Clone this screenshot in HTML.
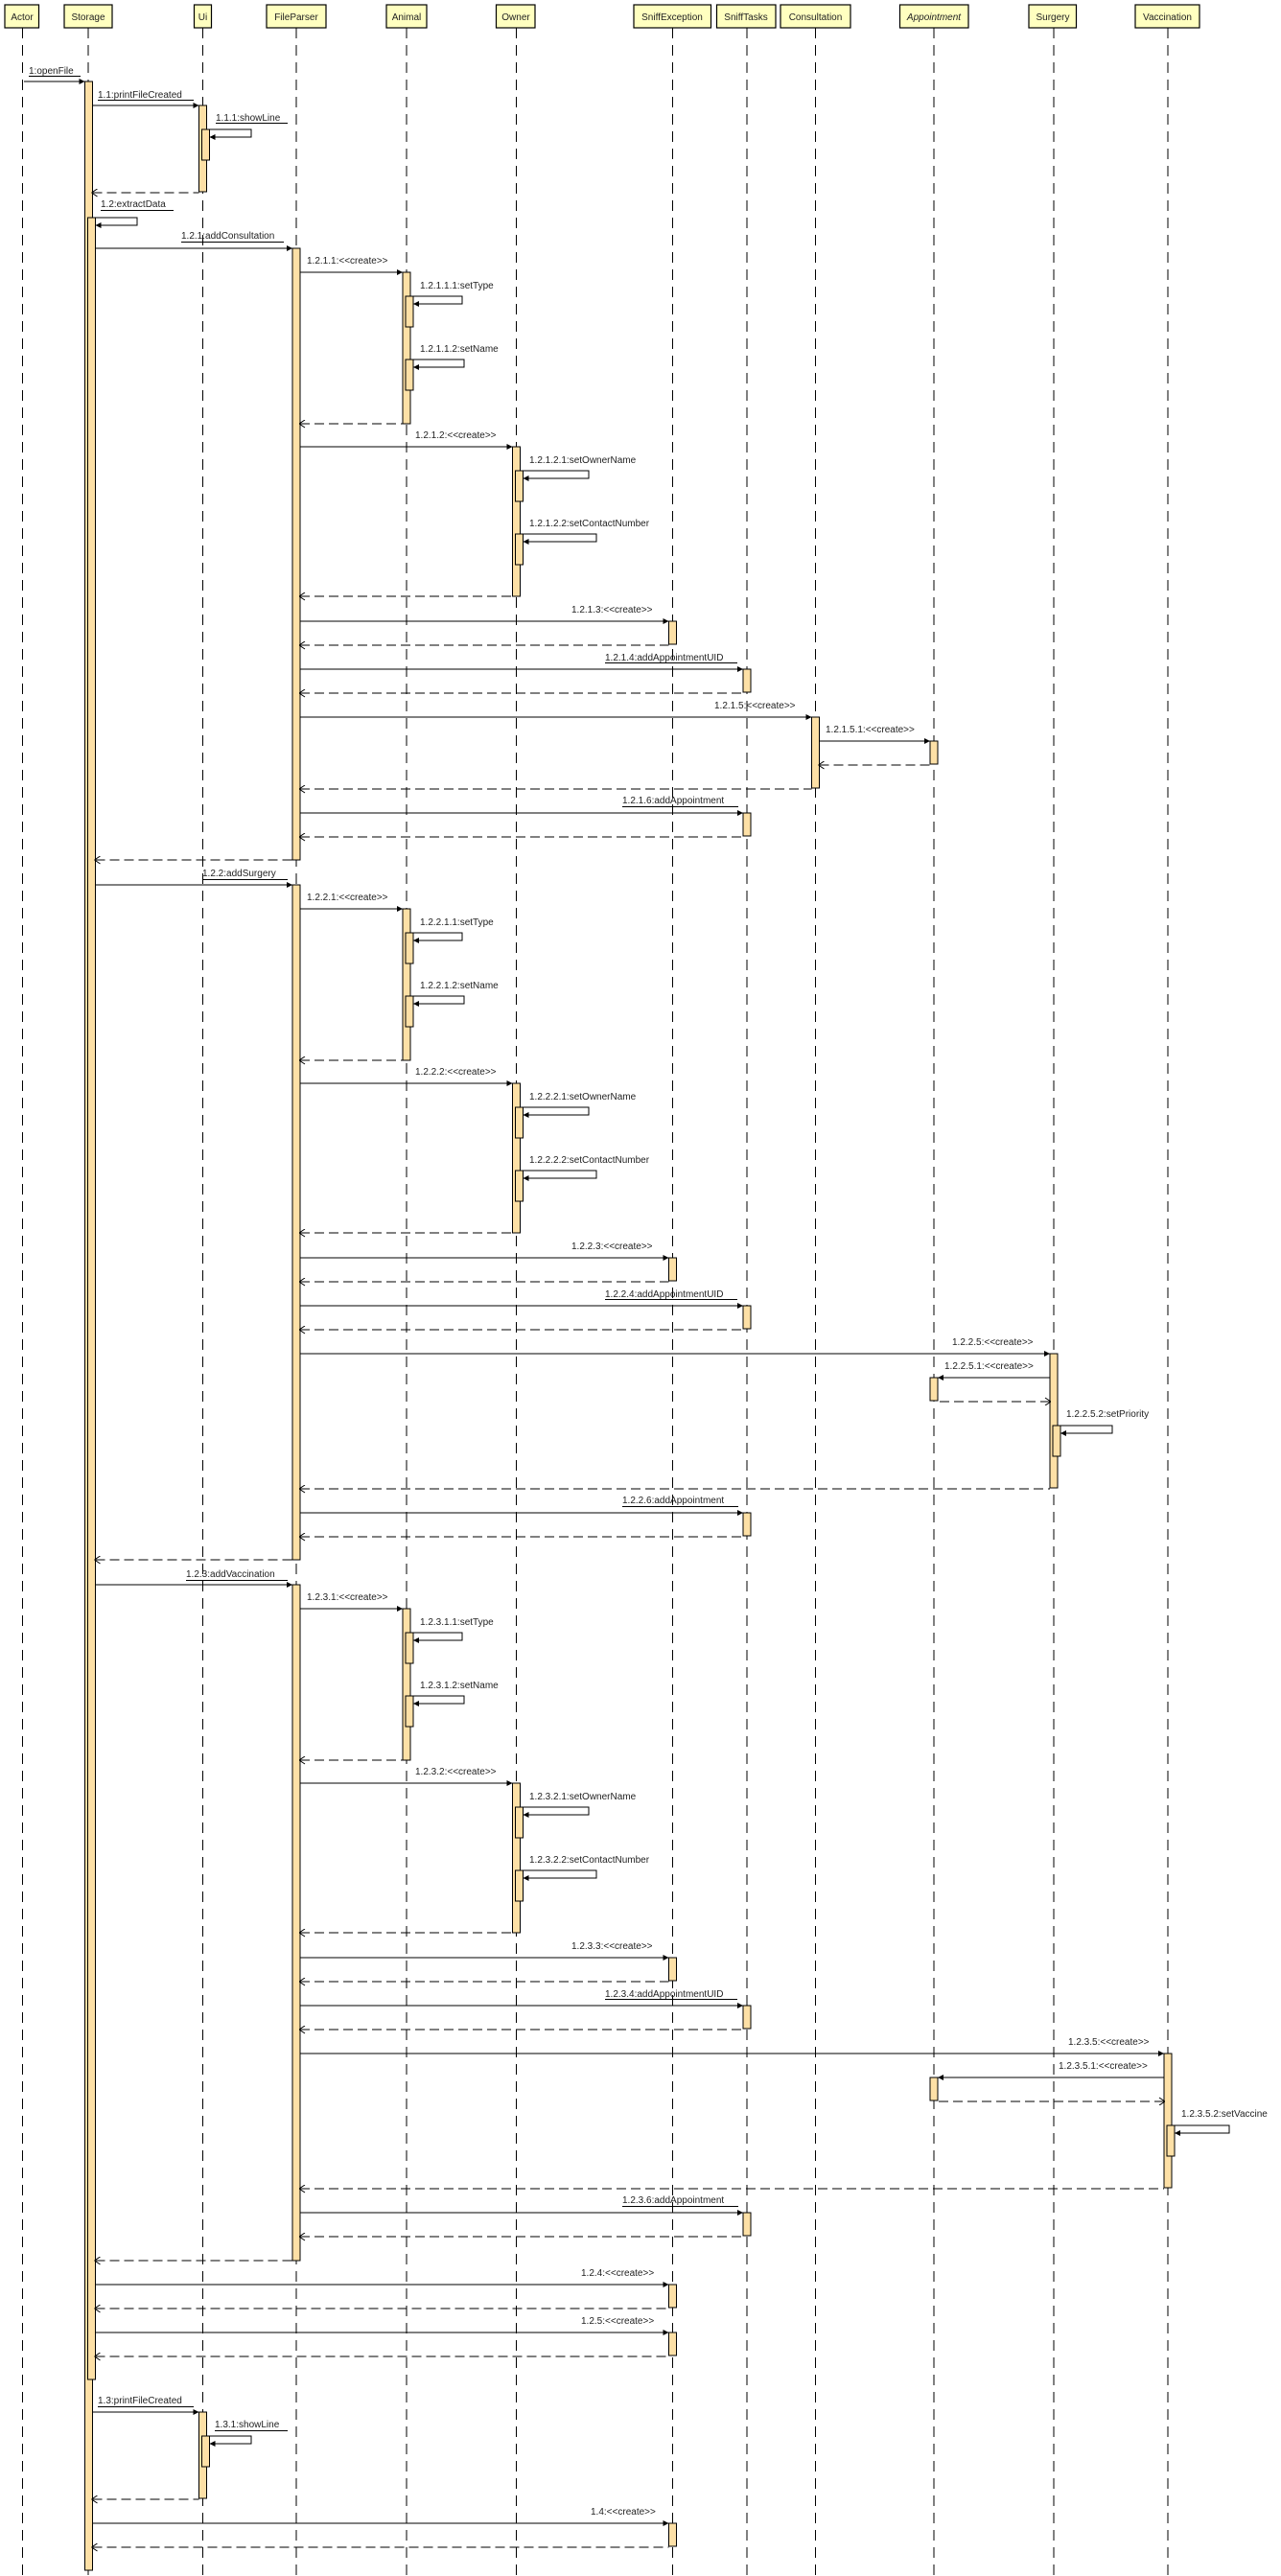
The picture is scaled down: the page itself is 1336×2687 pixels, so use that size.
<!DOCTYPE html>
<html><head><meta charset="utf-8"><style>
html,body{margin:0;padding:0;background:#fff;}
svg{display:block;}
text{font-family:"Liberation Sans",Arial,sans-serif;font-size:10px;fill:#222;}
.hd{fill:#ffffc0;stroke:#000;stroke-width:1.2;}
.ll{stroke:#000;stroke-width:1;stroke-dasharray:11 7;}
.a{fill:#fde0a6;stroke:#000;stroke-width:1;}
.m{stroke:#000;stroke-width:1;fill:none;marker-end:url(#s);}
.r{stroke:#000;stroke-width:1;fill:none;stroke-dasharray:10 5;marker-start:url(#o);}
.u{stroke:#000;stroke-width:1;}
.c{text-anchor:middle;}
</style></head><body>
<svg width="1336" height="2687" viewBox="0 0 1336 2687" xmlns="http://www.w3.org/2000/svg">
<defs>
<marker id="s" markerUnits="userSpaceOnUse" markerWidth="7" markerHeight="7" refX="6" refY="3" orient="auto"><polygon points="0,0 6,3 0,6" fill="#000"/></marker>
<marker id="o" markerUnits="userSpaceOnUse" markerWidth="8" markerHeight="10" refX="1" refY="4" orient="auto"><polyline points="6,0 0,4 6,8" fill="none" stroke="#000" stroke-width="1"/></marker>
</defs>

<!-- lifelines -->
<g>
<line class="ll" x1="23.5" y1="29" x2="23.5" y2="2687"/>
<line class="ll" x1="92" y1="29" x2="92" y2="2687"/>
<line class="ll" x1="211.5" y1="29" x2="211.5" y2="2687"/>
<line class="ll" x1="309" y1="29" x2="309" y2="2687"/>
<line class="ll" x1="424" y1="29" x2="424" y2="2687"/>
<line class="ll" x1="538.5" y1="29" x2="538.5" y2="2687"/>
<line class="ll" x1="701.5" y1="29" x2="701.5" y2="2687"/>
<line class="ll" x1="779" y1="29" x2="779" y2="2687"/>
<line class="ll" x1="850.5" y1="29" x2="850.5" y2="2687"/>
<line class="ll" x1="974" y1="29" x2="974" y2="2687"/>
<line class="ll" x1="1099" y1="29" x2="1099" y2="2687"/>
<line class="ll" x1="1218" y1="29" x2="1218" y2="2687"/>
</g>
<!-- headers -->
<rect class="hd" x="5" y="5" width="35.5" height="24"/><text class="c" x="23" y="21">Actor</text>
<rect class="hd" x="67" y="5" width="50" height="24"/><text class="c" x="92" y="21">Storage</text>
<rect class="hd" x="202.5" y="5" width="18" height="24"/><text class="c" x="211.5" y="21">Ui</text>
<rect class="hd" x="278" y="5" width="62" height="24"/><text class="c" x="309" y="21">FileParser</text>
<rect class="hd" x="403" y="5" width="42" height="24"/><text class="c" x="424" y="21">Animal</text>
<rect class="hd" x="517.5" y="5" width="40.5" height="24"/><text class="c" x="538" y="21">Owner</text>
<rect class="hd" x="661" y="5" width="80.5" height="24"/><text class="c" x="701" y="21">SniffException</text>
<rect class="hd" x="747.5" y="5" width="61.5" height="24"/><text class="c" x="778" y="21">SniffTasks</text>
<rect class="hd" x="814" y="5" width="73" height="24"/><text class="c" x="850.5" y="21">Consultation</text>
<rect class="hd" x="938.5" y="5" width="71.5" height="24"/><text class="c" x="974" y="21" font-style="italic">Appointment</text>
<rect class="hd" x="1073" y="5" width="49.5" height="24"/><text class="c" x="1098" y="21">Surgery</text>
<rect class="hd" x="1184" y="5" width="67" height="24"/><text class="c" x="1217.5" y="21">Vaccination</text>

<!-- Storage activations -->
<rect class="a" x="88.5" y="85" width="8" height="2596"/>
<rect class="a" x="91.5" y="227" width="8" height="2255"/>

<!-- top -->
<text x="30" y="77">1:openFile</text><line class="u" x1="30" y1="79.5" x2="84" y2="79.5"/>
<line class="m" x1="25" y1="85" x2="88.5" y2="85"/>
<text x="102" y="102">1.1:printFileCreated</text><line class="u" x1="102" y1="104.5" x2="202" y2="104.5"/>
<line class="m" x1="96.5" y1="110" x2="207.5" y2="110"/>
<rect class="a" x="207.5" y="110" width="8" height="90"/>
<rect class="a" x="210.5" y="135" width="8" height="32"/>
<text x="225" y="126">1.1.1:showLine</text><line class="u" x1="225" y1="128.5" x2="300" y2="128.5"/>
<path class="m" d="M215.5 135 H262 V143 H218.5"/>
<line class="r" x1="96.5" y1="201" x2="207.5" y2="201"/>
<text x="105" y="216">1.2:extractData</text><line class="u" x1="105" y1="219.5" x2="181" y2="219.5"/>
<path class="m" d="M96.5 227 H143 V235 H99.5"/>

<!-- FileParser activations -->
<rect class="a" x="305" y="259" width="8" height="638"/>
<rect class="a" x="305" y="923" width="8" height="704"/>
<rect class="a" x="305" y="1653" width="8" height="705"/>

<!-- ===== Block 1 ===== -->
<text x="189" y="249">1.2.1:addConsultation</text><line class="u" x1="189" y1="252.5" x2="296" y2="252.5"/>
<line class="m" x1="99.5" y1="259" x2="305" y2="259"/>
<line class="r" x1="99.5" y1="897" x2="305" y2="897"/>

<text x="320" y="275">1.2.1.1:&lt;&lt;create&gt;&gt;</text>
<text x="438" y="301">1.2.1.1.1:setType</text>
<text x="438" y="367">1.2.1.1.2:setName</text>
<text x="433" y="457">1.2.1.2:&lt;&lt;create&gt;&gt;</text>
<text x="552" y="483">1.2.1.2.1:setOwnerName</text>
<text x="552" y="549">1.2.1.2.2:setContactNumber</text>
<text x="596" y="639">1.2.1.3:&lt;&lt;create&gt;&gt;</text>
<text x="631" y="689">1.2.1.4:addAppointmentUID</text>
<g id="blk">
<line class="m" x1="313" y1="284" x2="420" y2="284"/>
<rect class="a" x="420" y="284" width="8" height="158"/>
<rect class="a" x="423" y="309" width="8" height="32"/>
<path class="m" d="M428 309 H482 V317 H431"/>
<rect class="a" x="423" y="375" width="8" height="32"/>
<path class="m" d="M428 375 H484 V383 H431"/>
<line class="r" x1="313" y1="442" x2="420" y2="442"/>
<line class="m" x1="313" y1="466" x2="534.5" y2="466"/>
<rect class="a" x="534.5" y="466" width="8" height="156"/>
<rect class="a" x="537.5" y="491" width="8" height="32"/>
<path class="m" d="M542.5 491 H614 V499 H545.5"/>
<rect class="a" x="537.5" y="557" width="8" height="32"/>
<path class="m" d="M542.5 557 H622 V565 H545.5"/>
<line class="r" x1="313" y1="622" x2="534.5" y2="622"/>
<line class="m" x1="313" y1="648" x2="697.5" y2="648"/>
<rect class="a" x="697.5" y="648" width="8" height="24"/>
<line class="r" x1="313" y1="673" x2="697.5" y2="673"/>
<line class="u" x1="631" y1="691.5" x2="769" y2="691.5"/>
<line class="m" x1="313" y1="698" x2="775" y2="698"/>
<rect class="a" x="775" y="698" width="8" height="24"/>
<line class="r" x1="313" y1="723" x2="775" y2="723"/>
</g>
<text x="745" y="739">1.2.1.5:&lt;&lt;create&gt;&gt;</text>
<line class="m" x1="313" y1="748" x2="846.5" y2="748"/>
<rect class="a" x="846.5" y="748" width="8" height="74"/>
<text x="861" y="764">1.2.1.5.1:&lt;&lt;create&gt;&gt;</text>
<line class="m" x1="854.5" y1="773" x2="970" y2="773"/>
<rect class="a" x="970" y="773" width="8" height="24"/>
<line class="r" x1="854.5" y1="798" x2="970" y2="798"/>
<line class="r" x1="313" y1="823" x2="846.5" y2="823"/>
<text x="649" y="838">1.2.1.6:addAppointment</text>
<g id="aa">
<line class="u" x1="649" y1="841.5" x2="770" y2="841.5"/>
<line class="m" x1="313" y1="848" x2="775" y2="848"/>
<rect class="a" x="775" y="848" width="8" height="24"/>
<line class="r" x1="313" y1="873" x2="775" y2="873"/>
</g>

<!-- ===== Block 2 ===== -->
<text x="211" y="914">1.2.2:addSurgery</text><line class="u" x1="211" y1="917.5" x2="300" y2="917.5"/>
<line class="m" x1="99.5" y1="923" x2="305" y2="923"/>
<line class="r" x1="99.5" y1="1627" x2="305" y2="1627"/>
<use href="#blk" transform="translate(0,664)"/>
<text x="320" y="939">1.2.2.1:&lt;&lt;create&gt;&gt;</text>
<text x="438" y="965">1.2.2.1.1:setType</text>
<text x="438" y="1031">1.2.2.1.2:setName</text>
<text x="433" y="1121">1.2.2.2:&lt;&lt;create&gt;&gt;</text>
<text x="552" y="1147">1.2.2.2.1:setOwnerName</text>
<text x="552" y="1213">1.2.2.2.2:setContactNumber</text>
<text x="596" y="1303">1.2.2.3:&lt;&lt;create&gt;&gt;</text>
<text x="631" y="1353">1.2.2.4:addAppointmentUID</text>
<text x="993" y="1403">1.2.2.5:&lt;&lt;create&gt;&gt;</text>
<line class="m" x1="313" y1="1412" x2="1095" y2="1412"/>
<rect class="a" x="1095" y="1412" width="8" height="140"/>
<text x="985" y="1428">1.2.2.5.1:&lt;&lt;create&gt;&gt;</text>
<line class="m" x1="1095" y1="1437" x2="978" y2="1437"/>
<rect class="a" x="970" y="1437" width="8" height="24"/>
<line class="r" x1="1095" y1="1462" x2="978" y2="1462"/>
<text x="1112" y="1478">1.2.2.5.2:setPriority</text>
<rect class="a" x="1098" y="1487" width="8" height="32"/>
<path class="m" d="M1103 1487 H1160 V1495 H1106"/>
<line class="r" x1="313" y1="1553" x2="1095" y2="1553"/>
<use href="#aa" transform="translate(0,730)"/>
<text x="649" y="1568">1.2.2.6:addAppointment</text>

<!-- ===== Block 3 ===== -->
<text x="194" y="1645">1.2.3:addVaccination</text><line class="u" x1="194" y1="1648.5" x2="300" y2="1648.5"/>
<line class="m" x1="99.5" y1="1653" x2="305" y2="1653"/>
<line class="r" x1="99.5" y1="2358" x2="305" y2="2358"/>
<use href="#blk" transform="translate(0,1394)"/>
<text x="320" y="1669">1.2.3.1:&lt;&lt;create&gt;&gt;</text>
<text x="438" y="1695">1.2.3.1.1:setType</text>
<text x="438" y="1761">1.2.3.1.2:setName</text>
<text x="433" y="1851">1.2.3.2:&lt;&lt;create&gt;&gt;</text>
<text x="552" y="1877">1.2.3.2.1:setOwnerName</text>
<text x="552" y="1943">1.2.3.2.2:setContactNumber</text>
<text x="596" y="2033">1.2.3.3:&lt;&lt;create&gt;&gt;</text>
<text x="631" y="2083">1.2.3.4:addAppointmentUID</text>
<text x="1114" y="2133">1.2.3.5:&lt;&lt;create&gt;&gt;</text>
<line class="m" x1="313" y1="2142" x2="1214" y2="2142"/>
<rect class="a" x="1214" y="2142" width="8" height="140"/>
<text x="1104" y="2158">1.2.3.5.1:&lt;&lt;create&gt;&gt;</text>
<line class="m" x1="1214" y1="2167" x2="978" y2="2167"/>
<rect class="a" x="970" y="2167" width="8" height="24"/>
<line class="r" x1="1214" y1="2192" x2="978" y2="2192"/>
<text x="1232" y="2208">1.2.3.5.2:setVaccine</text>
<rect class="a" x="1217" y="2217" width="8" height="32"/>
<path class="m" d="M1222 2217 H1282 V2225 H1225"/>
<line class="r" x1="313" y1="2283" x2="1214" y2="2283"/>
<use href="#aa" transform="translate(0,1460)"/>
<text x="649" y="2298">1.2.3.6:addAppointment</text>

<!-- bottom -->
<text x="606" y="2374">1.2.4:&lt;&lt;create&gt;&gt;</text>
<line class="m" x1="99.5" y1="2383" x2="697.5" y2="2383"/>
<rect class="a" x="697.5" y="2383" width="8" height="24"/>
<line class="r" x1="99.5" y1="2408" x2="697.5" y2="2408"/>
<text x="606" y="2424">1.2.5:&lt;&lt;create&gt;&gt;</text>
<line class="m" x1="99.5" y1="2433" x2="697.5" y2="2433"/>
<rect class="a" x="697.5" y="2433" width="8" height="24"/>
<line class="r" x1="99.5" y1="2458" x2="697.5" y2="2458"/>

<text x="102" y="2507">1.3:printFileCreated</text><line class="u" x1="102" y1="2510.5" x2="202" y2="2510.5"/>
<line class="m" x1="96.5" y1="2516" x2="207.5" y2="2516"/>
<rect class="a" x="207.5" y="2516" width="8" height="90"/>
<rect class="a" x="210.5" y="2541" width="8" height="32"/>
<text x="224" y="2532">1.3.1:showLine</text><line class="u" x1="224" y1="2535.5" x2="300" y2="2535.5"/>
<path class="m" d="M215.5 2541 H262 V2549 H218.5"/>
<line class="r" x1="96.5" y1="2607" x2="207.5" y2="2607"/>
<text x="616" y="2623">1.4:&lt;&lt;create&gt;&gt;</text>
<line class="m" x1="96.5" y1="2632" x2="697.5" y2="2632"/>
<rect class="a" x="697.5" y="2632" width="8" height="24"/>
<line class="r" x1="96.5" y1="2657" x2="697.5" y2="2657"/>
</svg>
</body></html>
